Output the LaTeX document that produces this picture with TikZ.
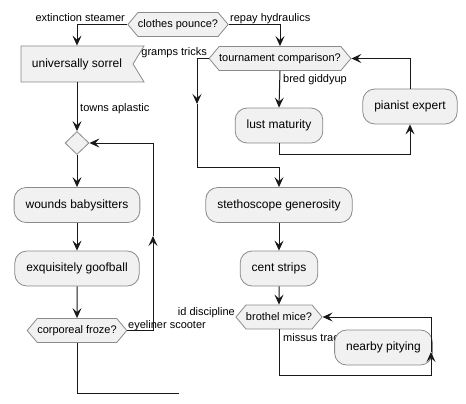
\documentclass[tikz,border=0pt]{standalone}
\usepackage{fontspec}
\setmainfont{Liberation Sans}
\usetikzlibrary{shapes.geometric,shapes.symbols,arrows.meta}
\definecolor{actfill}{HTML}{F1F1F1}
\definecolor{actline}{HTML}{8A8A8A}
\definecolor{flowline}{HTML}{181818}

\begin{document}
\begin{tikzpicture}[x=1pt,y=-1pt,
        act/.style={draw=actline,fill=actfill,line width=0.8pt,rounded corners=12pt,
            minimum height=35pt,inner xsep=11.5pt,font=\fontsize{12}{14}\selectfont},
        ask/.style={signal,signal to=west and east,signal pointer angle=100,
            draw=actline,fill=actfill,line width=0.8pt,minimum height=24pt,
            inner xsep=0pt,inner ysep=2pt,font=\fontsize{11}{13}\selectfont},
        recv/.style={signal,signal from=east,signal to=nowhere,signal pointer angle=117,
            draw=actline,fill=actfill,line width=0.8pt,minimum height=36pt,
            inner xsep=11pt,font=\fontsize{12}{14}\selectfont},
        merge/.style={diamond,draw=actline,fill=actfill,line width=0.8pt,
            minimum width=24pt,minimum height=23pt,inner sep=0pt},
        flow/.style={draw=flowline,line width=1pt,-{Stealth[length=10pt,width=9pt,inset=4pt]}},
        wire/.style={draw=flowline,line width=1pt},
        lbl/.style={font=\fontsize{11}{13}\selectfont,inner sep=0pt}]
    \useasboundingbox (0,0) rectangle (466,404);
    \node[ask] (pounce) at (178,24.5) {clothes pounce?};
    \node[recv] (sorrel) at (77,64) {universally sorrel};
    \node[merge] (merge) at (77,143) {};
    \node[act] (wounds) at (77,205) {wounds babysitters};
    \node[act] (goof) at (77,268.5) {exquisitely goofball};
    \node[ask] (froze) at (77,330.5) {corporeal froze?};
    \node[ask] (tourn) at (280,58.5) {tournament comparison?};
    \node[act] (lust) at (279,125.5) {lust maturity};
    \node[act] (pianist) at (410,106.5) {pianist expert};
    \node[act] (stetho) at (279,205) {stethoscope generosity};
    \node[act] (cent) at (279,268.5) {cent strips};
    \node[ask] (brothel) at (279,317) {brothel mice?};
    \node[lbl,anchor=base west] (missus) at (283,341) {missus trac};
    \node[act] (nearby) at (383.5,347.5) {nearby pitying};

    \coordinate (froUp) at (153,236);
    \coordinate (frozeEnd) at (179,393);
    \coordinate (gramDown) at (197,104);
    \coordinate (miceUp) at (431,352);

    \draw[flow] (pounce.west) -| (sorrel.north);
    \draw[flow] (pounce.east) -| (tourn.north);
    \draw[flow] (sorrel.south) -- (merge.north);
    \draw[flow] (merge.south) -- (wounds.north);
    \draw[flow] (wounds) -- (goof);
    \draw[flow] (goof) -- (froze);
    \draw[flow] (froze.east) -| (froUp);
    \draw[flow] (froUp) |- (merge.east);
    \draw[wire] (froze.south) |- (frozeEnd);
    \draw[flow] (tourn.west) -| (gramDown);
    \draw[flow] (gramDown) -- ++(0,63) -| (stetho.north);
    \draw[flow] (tourn.south) -- (lust.north);
    \draw[flow] (lust.south) -- ++(0,11) -| (pianist.south);
    \draw[flow] (pianist.north) |- (tourn.east);
    \draw[flow] (stetho) -- (cent);
    \draw[flow] (cent) -- (brothel);
    \draw[flow] (brothel.south) -- ++(0,46) -| (miceUp);
    \draw[flow] (miceUp) |- (brothel.east);

    \node[lbl,anchor=base east] (extinct) at (125,21.5) {extinction steamer};
    \node[lbl,anchor=base west] (repay) at (230,21.5) {repay hydraulics};
    \node[lbl,anchor=base east] (gramps) at (207,56) {gramps tricks};
    \node[lbl,anchor=base west] (towns) at (80,111) {towns aplastic};
    \node[lbl,anchor=base west] (bred) at (283,83) {bred giddyup};
    \node[lbl,anchor=base west] (eyeliner) at (128,328) {eyeliner scooter};
    \node[lbl,anchor=base east] (iddisc) at (235,315) {id discipline};
\end{tikzpicture}
\end{document}
